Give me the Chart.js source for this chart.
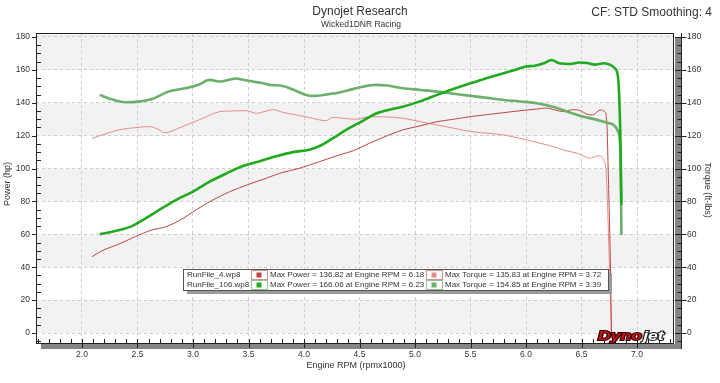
<!DOCTYPE html>
<html><head><meta charset="utf-8">
<script src="https://cdn.jsdelivr.net/npm/chart.js@4/dist/chart.umd.min.js"></script>
<style>html,body{margin:0;padding:0;background:#fff;overflow:hidden}</style>
</head><body>
<canvas id="c" width="720" height="383"></canvas>
<script>
// ---- data (rpm x1000, hp / ft-lbs) ----
const run106PowerRpm = [2.16,2.30,2.45,2.58,2.70,2.85,3.00,3.15,3.30,3.45,3.60,3.75,3.90,4.05,4.15,4.25,4.38,4.53,4.65,4.75,4.89,5.05,5.20,5.35,5.50,5.65,5.80,5.90,6.00,6.08,6.16,6.23,6.30,6.40,6.48,6.55,6.62,6.70,6.76,6.80,6.83,6.85,6.86];
const run106Power    = [60,62,65,70,75,81,86,92,97,101.5,104.5,107.5,110,111.5,114,118,123.5,129,133.5,135.5,137.6,141,144.8,148.5,151.9,155,158,160,162,162.5,164,166,164,163.6,164.5,164.2,163.2,164,163,161,155,120,78];
const run106TorqueRpm = [2.16,2.25,2.39,2.51,2.63,2.78,2.93,3.05,3.15,3.24,3.39,3.45,3.54,3.62,3.69,3.81,3.92,4.02,4.08,4.20,4.32,4.42,4.53,4.65,4.75,4.89,5.05,5.20,5.35,5.50,5.65,5.80,5.95,6.10,6.25,6.40,6.52,6.64,6.72,6.79,6.83,6.85,6.86];
const run106Torque    = [144.8,142.5,140.3,140.7,142.3,146.8,148.8,151,153.9,152.9,154.8,154,152.9,152,150.9,150.2,147.5,144.8,144.2,145,146.2,148,149.8,150.9,150.5,148.8,147.8,146.8,145.5,144.2,143,141.7,140.8,139.7,137.5,134,131.5,129.6,128,126.5,122.5,111,59.6];
const run4PowerRpm = [2.09,2.18,2.33,2.48,2.63,2.75,2.88,3.03,3.18,3.33,3.51,3.66,3.78,3.96,4.14,4.32,4.45,4.59,4.75,4.89,5.05,5.20,5.35,5.50,5.65,5.80,5.90,6.01,6.10,6.18,6.27,6.34,6.42,6.49,6.55,6.60,6.67,6.71,6.73,6.74,6.76,6.77];
const run4Power    = [46.4,50,54,58.6,62.7,64.5,68.5,75,80.9,85.9,90.6,94.1,97.1,100.2,104.2,108.3,111,115.4,120,123.5,126,128.5,130,131.6,132.8,134,134.8,135.6,136.2,136.8,135.5,134.6,135.8,135.2,133,132.6,135.6,134.6,125.5,100,44,0];
const run4TorqueRpm = [2.09,2.18,2.33,2.48,2.61,2.68,2.75,2.87,2.94,3.09,3.24,3.35,3.48,3.57,3.65,3.72,3.82,3.93,4.05,4.20,4.26,4.36,4.47,4.59,4.70,4.89,5.05,5.20,5.35,5.50,5.65,5.80,5.90,6.01,6.12,6.25,6.35,6.46,6.52,6.58,6.63,6.67,6.70,6.72,6.73,6.75,6.77];
const run4Torque    = [118.4,120.4,123.5,124.9,125.5,124,121.8,124.5,126.5,130.6,134.6,135,135.2,133.6,134.8,135.8,134,132.6,131,129.1,131.2,130.5,130,131.5,131.5,130.6,128.5,126.5,124.5,122.5,121.5,120.4,119,117.4,115.5,113.3,111,109.3,107.5,106.3,107.5,107.7,105,100,87,44,0];
const xTickLabels = [2.0,2.5,3.0,3.5,4.0,4.5,5.0,5.5,6.0,6.5,7.0];
const yTickLabels = [0,20,40,60,80,100,120,140,160,180];
const runNames = ["RunFile_4.wp8","RunFile_106.wp8"];
const maxPowerText = ["Max Power = 136.82 at Engine RPM = 6.18","Max Power = 166.06 at Engine RPM = 6.23"];
const maxTorqueText = ["Max Torque = 135.83 at Engine RPM = 3.72","Max Torque = 154.85 at Engine RPM = 3.39"];

const COL = {g:'#1faa1f', gt:'#6cb06c', r:'#c04444', rt:'#e88c8c'};
const pts = (xs, ys) => xs.map((x,i)=>({x, y: ys[i]}));
const F = '"Liberation Sans", Arial, sans-serif';

const decor = {
  id:'decor',
  beforeDraw(chart){
    const {ctx, chartArea:a, scales:{y}} = chart;
    ctx.save();
    ctx.fillStyle='#fff'; ctx.fillRect(0,0,720,383);
    ctx.fillStyle='#f2f2f2';
    for (let v=0; v<180; v+=40){
      const top = v===160 ? a.top : y.getPixelForValue(v+20);
      ctx.fillRect(a.left, top, a.right-a.left, y.getPixelForValue(v)-top);
    }
    ctx.restore();
  },
  afterDraw(chart){
    const {ctx, chartArea:a, scales:{x,y}} = chart;
    ctx.save();
    // shadows
    ctx.fillStyle='#858585';
    ctx.fillRect(a.right+1, a.top+4, 6, a.bottom-a.top+2);
    ctx.fillRect(a.left+5, a.bottom+1, a.right-a.left+2, 5);
    // frame
    ctx.strokeStyle='#222'; ctx.lineWidth=1;
    ctx.strokeRect(a.left+0.5, a.top+0.5, a.right-a.left-1, a.bottom-a.top);
    const rx = a.right+7.5;
    ctx.beginPath(); ctx.moveTo(rx, a.top); ctx.lineTo(rx, a.bottom+6); ctx.stroke();
    // ticks y
    ctx.beginPath();
    for (let v=-5; v<=180; v+=5){
      const py = Math.round(y.getPixelForValue(v))+0.5;
      if (v%20===0){
        ctx.moveTo(a.left-4, py); ctx.lineTo(a.left, py);
        ctx.moveTo(a.right+1, py); ctx.lineTo(rx+5, py);
      } else {
        ctx.moveTo(a.left, py); ctx.lineTo(a.left+5, py);
        ctx.moveTo(rx-4, py); ctx.lineTo(rx, py);
      }
    }
    // ticks x
    for (let i=16; i<=73; i++){
      const v=i/10, px=Math.round(x.getPixelForValue(v))+0.5;
      if (px> a.right) break;
      if (i%5===0){ ctx.moveTo(px, a.bottom-4); ctx.lineTo(px, a.bottom+5); }
      else { ctx.moveTo(px, a.bottom-4); ctx.lineTo(px, a.bottom); }
    }
    ctx.stroke();
    // titles
    ctx.fillStyle='#333'; ctx.textBaseline='middle';
    ctx.textAlign='center';
    ctx.font='12px '+F; ctx.fillText('Dynojet Research', 360, 12);
    ctx.font='8.5px '+F; ctx.fillText('Wicked1DNR Racing', 361, 25);
    ctx.textAlign='right'; ctx.font='12px '+F; ctx.fillText('CF: STD Smoothing: 4', 712, 13);
    ctx.textAlign='center'; ctx.font='9px '+F;
    ctx.fillText('Engine RPM (rpmx1000)', 356, 366);
    ctx.save(); ctx.translate(8, 184); ctx.rotate(-Math.PI/2); ctx.fillText('Power (hp)',0,0); ctx.restore();
    ctx.save(); ctx.translate(707, 190); ctx.rotate(Math.PI/2); ctx.fillText('Torque (ft-lbs)',0,0); ctx.restore();
    // legend
    const L=183, T=269, R=608, B=290;
    ctx.fillStyle='#9a9a9a'; ctx.fillRect(L+4, T+4, R-L, B-T);
    ctx.fillStyle='#fff'; ctx.fillRect(L, T, R-L, B-T);
    ctx.strokeStyle='#555'; ctx.strokeRect(L+0.5, T+0.5, R-L, B-T);
    const cols=[[251,267,[COL.r,COL.g]],[426,442,[COL.rt,COL.gt]]];
    for (let r=0;r<2;r++){
      const cy = T+6+r*10;
      ctx.fillStyle='#333'; ctx.textAlign='left'; ctx.font='8px '+F;
      ctx.fillText(runNames[r], 187, cy);
      ctx.fillText(maxPowerText[r], 270, cy);
      ctx.fillText(maxTorqueText[r], 445, cy);
      for (const [x0,x1,cs] of cols){
        ctx.strokeStyle = r===0 ? '#d89090' : '#90c890';
        ctx.strokeRect(x0+0.5, cy-4.5, x1-x0, 9);
        ctx.fillStyle=cs[r]; ctx.fillRect((x0+x1)/2-2.5, cy-2.5, 5, 5);
      }
    }
    // logo
    ctx.save(); ctx.translate(598, 340); ctx.scale(1.35,1);
    ctx.font='italic bold 13px '+F; ctx.textAlign='left'; ctx.textBaseline='alphabetic';
    ctx.lineWidth=2; ctx.strokeStyle='#2a0000'; ctx.strokeText('Dyno',0,0);
    ctx.fillStyle='#c8101a'; ctx.fillText('Dyno',0,0);
    const w = ctx.measureText('Dyno').width;
    ctx.strokeStyle='#222'; ctx.strokeText('jet', w+1, 0);
    ctx.fillStyle='#fff'; ctx.fillText('jet', w+1, 0);
    ctx.restore();
    ctx.restore();
  }
};

const fixTicks = (vals) => (s) => { s.ticks = vals.map(v=>({value:v})); };

new Chart(document.getElementById('c'), {
  type:'line',
  data:{ datasets:[
    {label:'106 Power', data:pts(run106PowerRpm, run106Power), borderColor:COL.g, borderWidth:2.6},
    {label:'106 Torque', data:pts(run106TorqueRpm, run106Torque), borderColor:COL.gt, borderWidth:2.6},
    {label:'4 Power', data:pts(run4PowerRpm, run4Power), borderColor:COL.r, borderWidth:1},
    {label:'4 Torque', data:pts(run4TorqueRpm, run4Torque), borderColor:COL.rt, borderWidth:1},
  ]},
  options:{
    responsive:false, animation:false, devicePixelRatio:1,
    layout:{padding:{top:33,left:0,right:0,bottom:0}},
    elements:{point:{radius:0}, line:{cubicInterpolationMode:'monotone', fill:false, borderJoinStyle:'round'}},
    plugins:{legend:{display:false}, tooltip:{enabled:false}},
    scales:{
      x:{type:'linear', min:1.5856, max:7.3333,
        afterBuildTicks:fixTicks(xTickLabels),
        afterFit:(s)=>{s.height=40;},
        ticks:{callback:(v)=>Number(v).toFixed(1), autoSkip:false, maxRotation:0, padding:7, color:'#333', font:{family:F, size:8.5}},
        grid:{color:'#cdcdcd', drawTicks:false}, border:{display:false, dash:[3,3]}},
      y:{type:'linear', position:'left', min:-6.08, max:182.43,
        afterBuildTicks:fixTicks(yTickLabels),
        afterFit:(s)=>{s.width=36;},
        ticks:{padding:6, color:'#333', font:{family:F, size:8.5}},
        grid:{color:'#cdcdcd', drawTicks:false}, border:{display:false, dash:[3,3]}},
      y2:{type:'linear', position:'right', min:-6.08, max:182.43,
        afterBuildTicks:fixTicks(yTickLabels),
        afterFit:(s)=>{s.width=46;},
        ticks:{padding:13, color:'#333', font:{family:F, size:8.5}},
        grid:{drawOnChartArea:false, drawTicks:false}, border:{display:false}}
    }
  },
  plugins:[decor]
});
</script>
</body></html>
